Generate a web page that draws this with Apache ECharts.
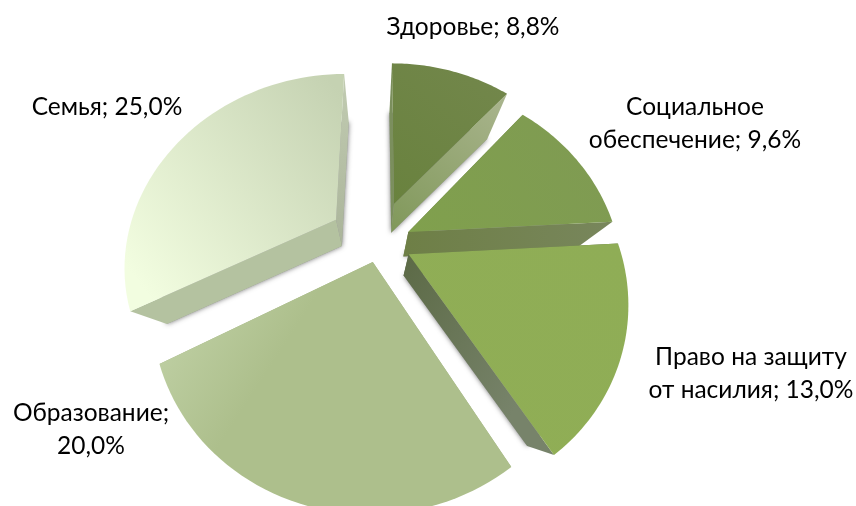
<!DOCTYPE html>
<html><head><meta charset="utf-8">
<style>html,body{margin:0;padding:0;background:#fff}#c{width:856px;height:506px}</style>
<script src="https://cdn.jsdelivr.net/npm/echarts@6/dist/echarts.min.js"></script>
</head><body><div id="c"></div>
<script>
const categories = ['Здоровье', 'Социальное\nобеспечение', 'Право на защиту\nот насилия', 'Образование', 'Семья'];
const values = [8.8, 9.6, 13.0, 20.0, 25.0];
const labelSeparators = ['; ', '; ', '; ', ';\n', '; '];

// presentation only
const explodeU = [0.06, 0.127, 0.125, -0.043, -0.225];
const explodeV = [0.218, 0.059, -0.06, -0.1, 0.128];
const labelAnchors = [[473, 27], [695, 124], [751, 374], [91, 430], [107, 107]];
const topFill = [
  [1, 0, 0, 1, '#73874c', '#69823e'],
  [1, 0, 0, 1, '#7f9a53', '#80a04d'],
  [1, 0, 0, 1, '#8fad56', '#90ae55'],
  [0, 0.42, 0.22, 0.62, '#bccda0', '#adbf8c'],
  [0, 0.8, 1, 0.1, '#f2fde0', '#c5d2b2']
];
const sideStart = [
  [0, 0, 0, 1, '#7b8f5d', '#7b8f5d'],
  [0, 0, 0, 1, '#6f8049', '#6f8049'],
  [0, 0, 0, 1, '#5f6e4a', '#5f6e4a'],
  [0, 0, 0, 1, '#a0b07f', '#a0b07f'],
  [0, 0, 0, 1, '#b4c2a0', '#b4c2a0']
];
const sideEnd = [
  [1, 0, 0, 1, '#aab58e', '#80985a'],
  [0, 0, 1, 0, '#6e7f46', '#78865c'],
  [0, 0, 1, 0.4, '#5c6a46', '#77836a'],
  [0, 0, 0, 1, '#a0b07f', '#a0b07f'],
  [0, 0, 0, 1, '#c2ccb2', '#aab49a']
];
const center = [382, 243], vp = [375, 395], depth = 0.15;
const A = 187, B = 210, K = 0.22;

const total = values.reduce((a, b) => a + b, 0);
function project(u, v) {
  const d = 1 + K * v;
  return [center[0] + B * u / d, center[1] - A * v / d];
}
function back(p) { return [p[0] + depth * (vp[0] - p[0]), p[1] + depth * (vp[1] - p[1])]; }
function grad(g) {
  return new echarts.graphic.LinearGradient(g[0], g[1], g[2], g[3], [{offset: 0, color: g[4]}, {offset: 1, color: g[5]}]);
}
function renderItem(params) {
  const i = params.dataIndex;
  let cum = 0;
  for (let j = 0; j < i; j++) cum += values[j];
  const t0 = cum / total * 2 * Math.PI, t1 = (cum + values[i]) / total * 2 * Math.PI;
  const eu = explodeU[i], ev = explodeV[i];
  const apex = project(eu, ev);
  const face = [apex];
  const steps = 48;
  for (let s = 0; s <= steps; s++) {
    const t = t0 + (t1 - t0) * s / steps;
    face.push(project(Math.sin(t) + eu, Math.cos(t) + ev));
  }
  const under = face.map(back);
  const pStart = face[1], pEnd = face[face.length - 1];
  const lab = categories[i] + labelSeparators[i] + values[i].toFixed(1).replace('.', ',') + '%';
  return {
    type: 'group',
    children: [
      {type: 'polygon', shape: {points: under},
       style: {fill: '#9a9a9a', shadowBlur: 5, shadowColor: 'rgba(0,0,0,0.55)'}},
      {type: 'polygon', shape: {points: [apex, pStart, back(pStart), back(apex)]},
       style: {fill: grad(sideStart[i])}},
      {type: 'polygon', shape: {points: [apex, pEnd, back(pEnd), back(apex)]},
       style: {fill: grad(sideEnd[i])}},
      {type: 'polygon', shape: {points: face}, style: {fill: grad(topFill[i])}},
      {type: 'text', x: labelAnchors[i][0], y: labelAnchors[i][1],
       style: {text: lab, fill: '#000', font: '24.5px Lato, Carlito, sans-serif',
               align: 'center', verticalAlign: 'middle', lineHeight: 33}}
    ]
  };
}
const chart = echarts.init(document.getElementById('c'), null, {renderer: 'canvas'});
chart.setOption({
  animation: false,
  series: [{type: 'custom', coordinateSystem: 'none', renderItem: renderItem,
            data: values.map((v, i) => ({name: categories[i], value: v}))}]
});
</script></body></html>
